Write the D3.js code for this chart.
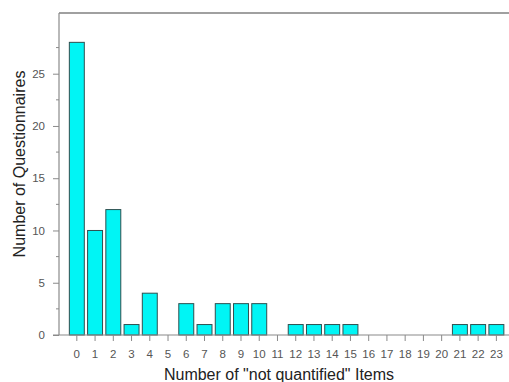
<!DOCTYPE html>
<html>
<head>
<meta charset="utf-8">
<script src="https://cdn.jsdelivr.net/npm/d3@7"></script>
<style>
  html, body { margin: 0; padding: 0; background: #fff; }
  svg { display: block; font-family: "Liberation Sans", Arial, sans-serif; }
</style>
</head>
<body>
<svg id="chart" width="509" height="382"></svg>
<script>
// Number of "not quantified" items per questionnaire
const categories = d3.range(0, 24).map(String);
const counts = [28, 10, 12, 1, 4, 0, 3, 1, 3, 3, 3, 0, 1, 1, 1, 1, 0, 0, 0, 0, 0, 1, 1, 1];
const majorTicks = [0, 5, 10, 15, 20, 25];
const minorTicks = [2.5, 7.5, 12.5, 17.5, 22.5, 27.5];

const svg = d3.select("#chart");
const axisX = 59, baseY = 335, topY = 13;

const x = d3.scaleBand()
  .domain(categories)
  .range([67.7, 505.5])
  .paddingInner(0.18)
  .paddingOuter(0.09);

const y = d3.scaleLinear()
  .domain([0, 25])
  .range([baseY, 73.7]);

const axisColor = "#8a8a8a";
const labelColor = "#555";
const tickFont = 11.5;

// top frame line
svg.append("line")
  .attr("x1", axisX).attr("x2", 509)
  .attr("y1", topY).attr("y2", topY)
  .attr("stroke", "#a0a0a0").attr("stroke-width", 2);

// bars
svg.append("g").selectAll("rect")
  .data(counts)
  .join("rect")
  .attr("x", (d, i) => x(categories[i]))
  .attr("width", x.bandwidth())
  .attr("y", d => y(d))
  .attr("height", d => y(0) - y(d))
  .attr("fill", "#00f5f5")
  .attr("stroke", "#2f4f4f")
  .attr("stroke-width", 1);

// y axis
const yAxis = svg.append("g")
  .attr("transform", `translate(${axisX},0)`)
  .call(d3.axisLeft(y).tickValues(majorTicks).tickSize(6).tickPadding(8).tickFormat(d3.format("d")));
yAxis.select(".domain").remove();
yAxis.selectAll(".tick line").attr("stroke", axisColor);
yAxis.selectAll(".tick text").attr("fill", labelColor).attr("font-size", tickFont)
  .attr("font-family", "'Liberation Sans', Arial, sans-serif");
yAxis.append("g").selectAll("line")
  .data(minorTicks)
  .join("line")
  .attr("x1", -3).attr("x2", 0)
  .attr("y1", d => y(d)).attr("y2", d => y(d))
  .attr("stroke", axisColor);
svg.append("line")
  .attr("x1", axisX).attr("x2", axisX)
  .attr("y1", topY).attr("y2", baseY)
  .attr("stroke", axisColor).attr("stroke-width", 1.2);

// x axis
const xAxis = svg.append("g")
  .attr("transform", `translate(0,${baseY})`)
  .call(d3.axisBottom(x).tickSize(6).tickPadding(9));
xAxis.select(".domain").remove();
xAxis.selectAll(".tick line").attr("stroke", axisColor);
xAxis.selectAll(".tick text").attr("fill", labelColor).attr("font-size", tickFont)
  .attr("font-family", "'Liberation Sans', Arial, sans-serif");
svg.append("line")
  .attr("x1", 53).attr("x2", 509)
  .attr("y1", baseY).attr("y2", baseY)
  .attr("stroke", axisColor).attr("stroke-width", 1.2);

// axis titles
svg.append("text")
  .attr("x", 279).attr("y", 380)
  .attr("text-anchor", "middle")
  .attr("font-size", 16)
  .attr("fill", "#222")
  .text('Number of "not quantified" Items');

svg.append("text")
  .attr("transform", "translate(25,164) rotate(-90)")
  .attr("text-anchor", "middle")
  .attr("font-size", 16)
  .attr("fill", "#222")
  .text("Number of Questionnaires");
</script>
</body>
</html>
